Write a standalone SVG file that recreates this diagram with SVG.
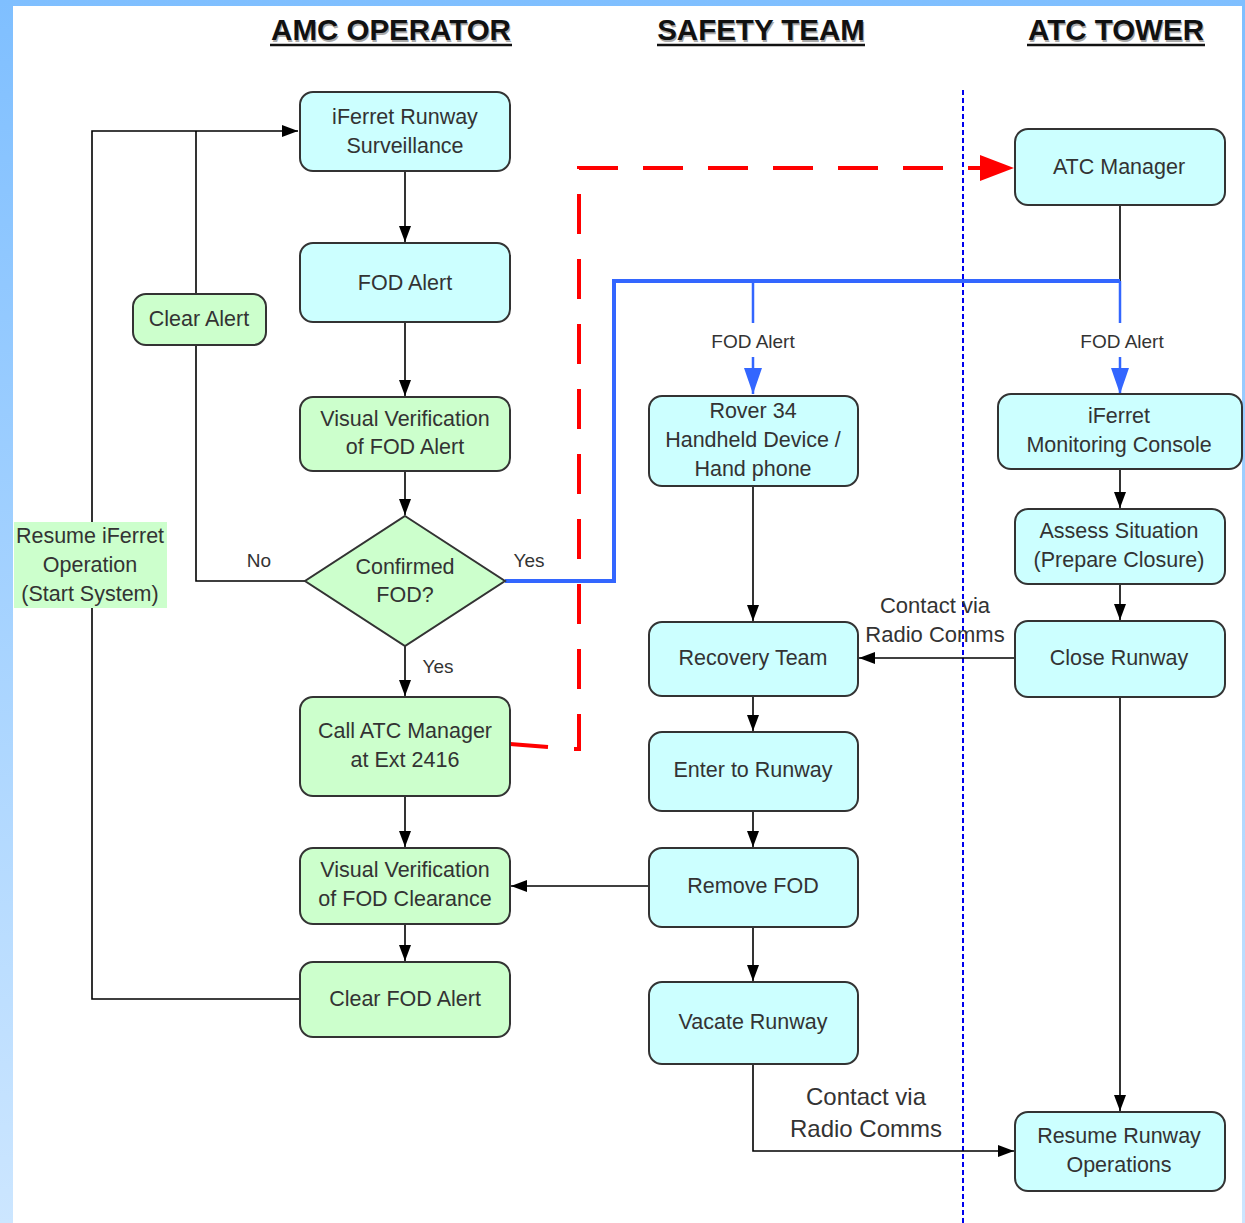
<svg xmlns="http://www.w3.org/2000/svg" width="1245" height="1223" viewBox="0 0 1245 1223">
<defs>
<linearGradient id="bg" x1="0" y1="0" x2="0" y2="1">
<stop offset="0" stop-color="#7fbfff"/>
<stop offset="1" stop-color="#cce6ff"/>
</linearGradient>
<marker id="ah" markerWidth="16" markerHeight="12" refX="16" refY="6" orient="auto" markerUnits="userSpaceOnUse">
<path d="M0,0 L16,6 L0,12 Z" fill="#000"/>
</marker>
<marker id="bh" markerWidth="26" markerHeight="18" refX="26" refY="9" orient="auto" markerUnits="userSpaceOnUse">
<path d="M0,0 L26,9 L0,18 Z" fill="#3366ff"/>
</marker>
</defs>
<style>
.cy{fill:#ccffff;stroke:#333;stroke-width:2}
.gr{fill:#ccffcc;stroke:#333;stroke-width:2}
.t{font-family:"Liberation Sans",Arial,sans-serif;font-size:21.5px;fill:#333;text-anchor:middle}
.s{font-family:"Liberation Sans",Arial,sans-serif;font-size:19px;fill:#333;text-anchor:middle}
.h{font-family:"Liberation Sans",Arial,sans-serif;font-size:29.5px;font-weight:bold;fill:#111;text-anchor:middle}
.hs{font-family:"Liberation Sans",Arial,sans-serif;font-size:29.5px;font-weight:bold;fill:#aaa;text-anchor:middle}
.k{fill:none;stroke:#000;stroke-width:1.6}
.b{fill:none;stroke:#3366ff;stroke-width:4}
.b2{fill:none;stroke:#3366ff;stroke-width:2.5}
</style>
<rect x="0" y="0" width="1245" height="1223" fill="url(#bg)"/>
<rect x="13" y="6" width="1229" height="1217" fill="#fff"/>

<g id="headings">
<text class="hs" x="392" y="42">AMC OPERATOR</text>
<text class="h" x="391" y="40">AMC OPERATOR</text>
<line x1="270" y1="45" x2="512" y2="45" stroke="#111" stroke-width="2.5"/>
<text class="hs" x="762" y="42">SAFETY TEAM</text>
<text class="h" x="761" y="40">SAFETY TEAM</text>
<line x1="657" y1="45" x2="865" y2="45" stroke="#111" stroke-width="2.5"/>
<text class="hs" x="1117" y="42">ATC TOWER</text>
<text class="h" x="1116" y="40">ATC TOWER</text>
<line x1="1027" y1="45" x2="1205" y2="45" stroke="#111" stroke-width="2.5"/>
</g>

<line id="lane-divider" x1="963" y1="90" x2="963" y2="1223" stroke="#0000ee" stroke-width="2" stroke-dasharray="5 3"/>

<g id="connectors">
<path class="k" d="M300,999 L92,999 L92,131 L298,131" marker-end="url(#ah)"/>
<path class="k" d="M196,131 L196,294"/>
<path class="k" d="M196,345 L196,581 L305,581"/>
<path class="k" d="M405,171 L405,242" marker-end="url(#ah)"/>
<path class="k" d="M405,322 L405,396" marker-end="url(#ah)"/>
<path class="k" d="M405,471 L405,515" marker-end="url(#ah)"/>
<path class="k" d="M405,646 L405,696" marker-end="url(#ah)"/>
<path class="k" d="M405,796 L405,847" marker-end="url(#ah)"/>
<path class="k" d="M405,924 L405,961" marker-end="url(#ah)"/>
<path class="k" d="M753,486 L753,621" marker-end="url(#ah)"/>
<path class="k" d="M753,696 L753,731" marker-end="url(#ah)"/>
<path class="k" d="M753,811 L753,847" marker-end="url(#ah)"/>
<path class="k" d="M753,927 L753,981" marker-end="url(#ah)"/>
<path class="k" d="M649,886 L511,886" marker-end="url(#ah)"/>
<path class="k" d="M1015,658 L859,658" marker-end="url(#ah)"/>
<path class="k" d="M1120,205 L1120,281"/>
<path class="k" d="M1120,469 L1120,508" marker-end="url(#ah)"/>
<path class="k" d="M1120,584 L1120,620" marker-end="url(#ah)"/>
<path class="k" d="M1120,697 L1120,1111" marker-end="url(#ah)"/>
<path class="k" d="M753,1064 L753,1151 L1014,1151" marker-end="url(#ah)"/>
<path class="b" d="M505,581 L614,581 L614,281 L1120,281"/>
<path class="b2" d="M753,281 L753,323"/>
<path class="b2" d="M753,357 L753,394" marker-end="url(#bh)"/>
<path class="b2" d="M1120,281 L1120,323"/>
<path class="b2" d="M1120,357 L1120,394" marker-end="url(#bh)"/>
<path d="M510,744 L548,747" fill="none" stroke="#ff0000" stroke-width="4"/>
<path d="M572,749 L579,749 L579,168 L985,168" fill="none" stroke="#ff0000" stroke-width="4" stroke-dasharray="40 25" stroke-dashoffset="-2"/>
<polygon points="980,155 1014,168 980,181" fill="#ff0000"/>
<text class="s" x="259" y="567">No</text>
<text class="s" x="529" y="567">Yes</text>
<text class="s" x="438" y="673">Yes</text>
<text class="s" x="753" y="348">FOD Alert</text>
<text class="s" x="1122" y="348">FOD Alert</text>
<text class="t" x="935" y="613" style="font-size:22px">Contact via</text>
<text class="t" x="935" y="642" style="font-size:22px">Radio Comms</text>
<text class="t" x="866" y="1105" style="font-size:24px">Contact via</text>
<text class="t" x="866" y="1137" style="font-size:24px">Radio Comms</text>
</g>

<g id="n-surveillance"><rect class="cy" x="300" y="92" width="210" height="79" rx="13"/><text class="t" x="405" y="123.5">iFerret Runway</text><text class="t" x="405" y="152.5">Surveillance</text></g>
<g id="n-fodalert"><rect class="cy" x="300" y="243" width="210" height="79" rx="13"/><text class="t" x="405" y="289.5">FOD Alert</text></g>
<g id="n-visual1"><rect class="gr" x="300" y="397" width="210" height="74" rx="13"/><text class="t" x="405" y="425.5">Visual Verification</text><text class="t" x="405" y="453.5">of FOD Alert</text></g>
<g id="n-confirmed"><polygon class="gr" points="405,516 505,581 405,646 305,581"/><text class="t" x="405" y="573.5">Confirmed</text><text class="t" x="405" y="601.5">FOD?</text></g>
<g id="n-callatc"><rect class="gr" x="300" y="697" width="210" height="99" rx="13"/><text class="t" x="405" y="737.5">Call ATC Manager</text><text class="t" x="405" y="766.5">at Ext 2416</text></g>
<g id="n-visual2"><rect class="gr" x="300" y="848" width="210" height="76" rx="13"/><text class="t" x="405" y="877">Visual Verification</text><text class="t" x="405" y="906">of FOD Clearance</text></g>
<g id="n-clearfod"><rect class="gr" x="300" y="962" width="210" height="75" rx="13"/><text class="t" x="405" y="1005.5">Clear FOD Alert</text></g>
<g id="n-clearalert"><rect class="gr" x="133" y="294" width="133" height="51" rx="13"/><text class="t" x="199" y="325.5">Clear Alert</text></g>
<g id="n-resume-iferret"><rect x="14" y="522" width="153" height="86" fill="#ccffcc"/><text class="t" x="90" y="543">Resume iFerret</text><text class="t" x="90" y="572">Operation</text><text class="t" x="90" y="601">(Start System)</text></g>

<g id="n-rover"><rect class="cy" x="649" y="396" width="209" height="90" rx="13"/><text class="t" x="753" y="417.5">Rover 34</text><text class="t" x="753" y="447">Handheld Device /</text><text class="t" x="753" y="476">Hand phone</text></g>
<g id="n-recovery"><rect class="cy" x="649" y="622" width="209" height="74" rx="13"/><text class="t" x="753" y="664.5">Recovery Team</text></g>
<g id="n-enter"><rect class="cy" x="649" y="732" width="209" height="79" rx="13"/><text class="t" x="753" y="777">Enter to Runway</text></g>
<g id="n-remove"><rect class="cy" x="649" y="848" width="209" height="79" rx="13"/><text class="t" x="753" y="893">Remove FOD</text></g>
<g id="n-vacate"><rect class="cy" x="649" y="982" width="209" height="82" rx="13"/><text class="t" x="753" y="1029">Vacate Runway</text></g>

<g id="n-atcmanager"><rect class="cy" x="1015" y="129" width="210" height="76" rx="13"/><text class="t" x="1119" y="173.5">ATC Manager</text></g>
<g id="n-console"><rect class="cy" x="998" y="394" width="244" height="75" rx="13"/><text class="t" x="1119" y="423">iFerret</text><text class="t" x="1119" y="452">Monitoring Console</text></g>
<g id="n-assess"><rect class="cy" x="1015" y="509" width="210" height="75" rx="13"/><text class="t" x="1119" y="538">Assess Situation</text><text class="t" x="1119" y="567">(Prepare Closure)</text></g>
<g id="n-close"><rect class="cy" x="1015" y="621" width="210" height="76" rx="13"/><text class="t" x="1119" y="665">Close Runway</text></g>
<g id="n-resume-runway"><rect class="cy" x="1015" y="1112" width="210" height="79" rx="13"/><text class="t" x="1119" y="1143">Resume Runway</text><text class="t" x="1119" y="1172">Operations</text></g>
</svg>
